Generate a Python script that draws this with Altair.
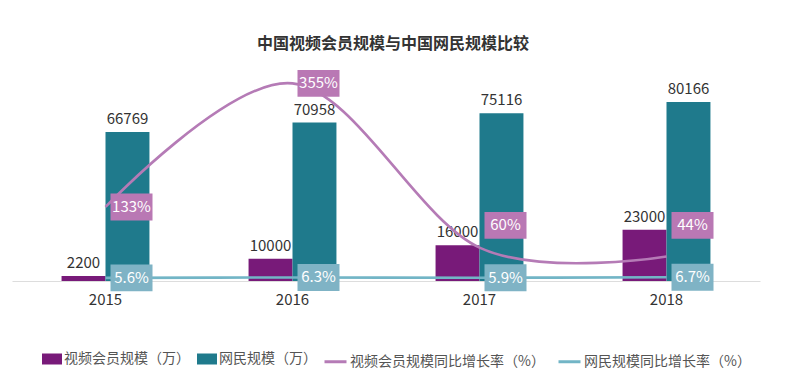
import altair as alt
import pandas as pd

years = ["2015", "2016", "2017", "2018"]
video_members = [2200, 10000, 16000, 23000]
netizens = [66769, 70958, 75116, 80166]
video_growth = [133, 355, 60, 44]
netizen_growth = [5.6, 6.3, 5.9, 6.7]

bar_names = ["视频会员规模（万）", "网民规模（万）"]
line_names = ["视频会员规模同比增长率（%）", "网民规模同比增长率（%）"]
title_text = "中国视频会员规模与中国网民规模比较"

bar_colors = ["#781A79", "#1F7A8C"]
line_colors = ["#B57BB6", "#72B5C6"]
box_colors = ["#B978B4", "#7FB3C5"]

FONT = "Noto Sans CJK SC"

bars_df = pd.DataFrame({
    "year": years * 2,
    "series": [bar_names[0]] * len(years) + [bar_names[1]] * len(years),
    "value": video_members + netizens,
})

def fmt(v):
    return (str(int(v)) if float(v).is_integer() else str(v)) + "%"

lines_df = pd.DataFrame({
    "year": years * 2,
    "series": [line_names[0]] * len(years) + [line_names[1]] * len(years),
    "rate": video_growth + netizen_growth,
    "label": [fmt(v) for v in video_growth + netizen_growth],
})

x_enc = alt.X("year:N", sort=years, title=None,
              scale=alt.Scale(paddingInner=0.53, paddingOuter=0.265),
              axis=alt.Axis(labelAngle=0, ticks=False, domainColor="#dddddd",
                            labelFontSize=15, labelColor="#333333", labelFont=FONT,
                            labelPadding=11, grid=False))

bar_y = alt.Y("value:Q", scale=alt.Scale(domain=[0, 99000]), axis=None)
rate_scale = alt.Scale(domain=[0, 397])

bars = alt.Chart(bars_df).mark_bar().encode(
    x=x_enc,
    xOffset=alt.XOffset("series:N", sort=bar_names, scale=alt.Scale(paddingInner=0, paddingOuter=0)),
    y=bar_y,
    fill=alt.Fill("series:N", sort=bar_names,
                  scale=alt.Scale(domain=bar_names, range=bar_colors),
                  legend=alt.Legend(title=None, orient="none", direction="horizontal",
                                    legendX=30, legendY=289,
                                    symbolType="M-1,-0.55H1V0.55H-1Z", symbolSize=400,
                                    symbolStrokeWidth=0, labelOffset=2, columnPadding=7,
                                    labelFontSize=14, labelColor="#555555", labelFont=FONT,
                                    labelLimit=0, padding=0)),
)

bar_text = alt.Chart(bars_df).mark_text(baseline="bottom", dy=-5, fontSize=15,
                                        color="#333333", font=FONT).encode(
    x=alt.X("year:N", sort=years),
    xOffset=alt.XOffset("series:N", sort=bar_names),
    y=bar_y,
    text=alt.Text("value:Q", format="d"),
)

lines = alt.Chart(lines_df).mark_line(interpolate="cardinal", strokeWidth=2.6).encode(
    x=alt.X("year:N", sort=years),
    y=alt.Y("rate:Q", scale=rate_scale, axis=None),
    detail="series:N",
    stroke=alt.Stroke("series:N", sort=line_names,
                      scale=alt.Scale(domain=line_names, range=line_colors),
                      legend=alt.Legend(title=None, orient="none", direction="horizontal",
                                        legendX=311, legendY=289,
                                        symbolType="stroke", symbolSize=484,
                                        symbolStrokeWidth=3, labelOffset=2, columnPadding=7,
                                        labelFontSize=14, labelColor="#555555", labelFont=FONT,
                                        labelLimit=0, padding=0)),
)

label_base = alt.Chart(lines_df).transform_calculate(
    label_y=f"datum.series == '{line_names[0]}' ? max(datum.rate, 100) : datum.rate"
)

boxes = label_base.mark_point(
    shape="M-1,-0.64H1V0.64H-1Z", size=1764, filled=True, opacity=1, strokeWidth=0,
    xOffset=26,
).encode(
    x=alt.X("year:N", sort=years),
    y=alt.Y("label_y:Q", scale=rate_scale, axis=None),
    color=alt.Color("series:N", scale=alt.Scale(domain=line_names, range=box_colors), legend=None),
)

box_text = label_base.mark_text(fontSize=15, color="white", font=FONT, xOffset=26).encode(
    x=alt.X("year:N", sort=years),
    y=alt.Y("label_y:Q", scale=rate_scale, axis=None),
    text="label:N",
)

chart = alt.layer(bars, bar_text, lines, boxes, box_text).resolve_scale(
    y="independent"
).properties(
    width=748,
    height=221,
    autosize=alt.AutoSizeParams(type="none"),
    padding={"left": 4, "top": 52, "right": 30, "bottom": 104},
    title=alt.TitleParams(title_text, fontSize=16, fontWeight="bold", color="#333333",
                          font=FONT, anchor="middle", dx=7, offset=8),
    background="white",
).configure_view(stroke=None)

chart.save("out.html", embed_options={"renderer": "svg", "actions": False})
